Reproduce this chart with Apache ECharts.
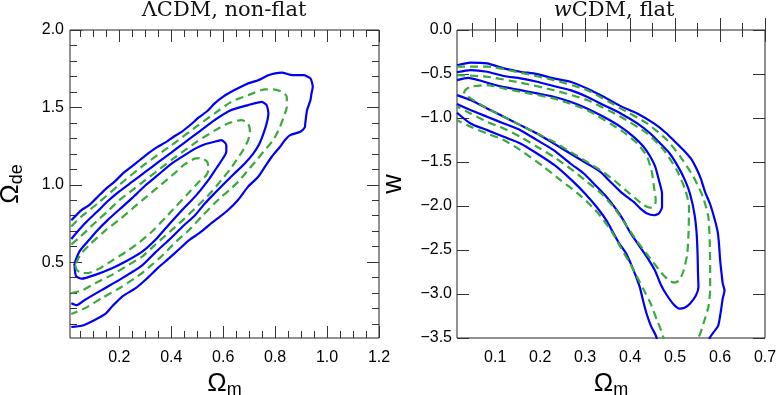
<!DOCTYPE html>
<html>
<head>
<meta charset="utf-8">
<script src="https://cdn.jsdelivr.net/npm/echarts@6/dist/echarts.min.js"></script>
<style>
  html, body { margin: 0; padding: 0; background: #fff; }
  #chart { width: 777px; height: 395px; }
</style>
</head>
<body>
<div id="chart"></div>
<script>
// ticks
const lcdmXLabels = [0.2, 0.4, 0.6, 0.8, 1.0, 1.2]
const lcdmXMinor = [0.05, 0.1, 0.15, 0.25, 0.3, 0.35, 0.45, 0.5, 0.55, 0.65, 0.7, 0.75, 0.85, 0.9, 0.95, 1.05, 1.1, 1.15]
const lcdmYLabels = [0.5, 1.0, 1.5, 2.0]
const lcdmYMinor = [0.1, 0.2, 0.3, 0.4, 0.6, 0.7, 0.8, 0.9, 1.1, 1.2, 1.3, 1.4, 1.6, 1.7, 1.8, 1.9]
const wcdmXLabels = [0.1, 0.2, 0.3, 0.4, 0.5, 0.6, 0.7]
const wcdmXMinor = [0.05, 0.15, 0.25, 0.35, 0.45, 0.55, 0.65]
const wcdmYLabels = [-3.5, -3.0, -2.5, -2.0, -1.5, -1.0, -0.5, 0.0]

// ΛCDM non-flat contours (Omega_m, Omega_de)
const lcdmBlue1 = [[0.027,0.49],[0.033,0.41],[0.055,0.393],[0.107,0.418],[0.172,0.461],[0.224,0.504],[0.288,0.568],[0.345,0.655],[0.392,0.745],[0.441,0.835],[0.495,0.93],[0.547,1.04],[0.575,1.11],[0.595,1.16],[0.612,1.214],[0.612,1.257],[0.593,1.289],[0.567,1.278],[0.53,1.262],[0.5,1.24],[0.45,1.19],[0.4,1.135],[0.35,1.065],[0.3,0.995],[0.25,0.915],[0.2,0.84],[0.156,0.773],[0.117,0.708],[0.078,0.633],[0.046,0.568],[0.027,0.49]]
const lcdmBlue2 = [[0.015,0.65],[0.04,0.70],[0.07,0.755],[0.117,0.83],[0.156,0.895],[0.2,0.957],[0.25,1.02],[0.3,1.083],[0.35,1.146],[0.4,1.208],[0.45,1.271],[0.5,1.334],[0.567,1.418],[0.631,1.483],[0.696,1.515],[0.748,1.536],[0.767,1.515],[0.774,1.461],[0.768,1.40],[0.755,1.33],[0.738,1.26],[0.715,1.2],[0.683,1.138],[0.644,1.074],[0.605,1.01],[0.567,0.945],[0.53,0.88],[0.49,0.80],[0.45,0.74],[0.392,0.645],[0.34,0.565],[0.288,0.48],[0.211,0.397],[0.133,0.321],[0.068,0.257],[0.036,0.222],[0.015,0.235]]
const lcdmBlue3 = [[0.015,0.77],[0.053,0.835],[0.085,0.87],[0.117,0.923],[0.15,0.977],[0.182,1.02],[0.214,1.074],[0.247,1.117],[0.279,1.16],[0.311,1.203],[0.344,1.242],[0.376,1.272],[0.409,1.31],[0.441,1.343],[0.473,1.386],[0.506,1.435],[0.538,1.475],[0.567,1.526],[0.6,1.57],[0.631,1.601],[0.665,1.63],[0.696,1.655],[0.735,1.676],[0.774,1.708],[0.8,1.72],[0.826,1.725],[0.855,1.712],[0.877,1.708],[0.91,1.708],[0.936,1.687],[0.945,1.633],[0.94,1.59],[0.936,1.547],[0.923,1.483],[0.916,1.397],[0.914,1.37],[0.897,1.343],[0.858,1.321],[0.838,1.289],[0.819,1.246],[0.787,1.181],[0.761,1.117],[0.735,1.052],[0.696,0.988],[0.657,0.902],[0.619,0.837],[0.58,0.784],[0.547,0.741],[0.508,0.687],[0.47,0.644],[0.431,0.585],[0.392,0.526],[0.35,0.465],[0.301,0.386],[0.263,0.332],[0.211,0.278],[0.172,0.214],[0.146,0.166],[0.094,0.117],[0.055,0.089],[0.015,0.081]]
const lcdmGreen1 = [[0.03,0.48],[0.036,0.45],[0.055,0.43],[0.08,0.43],[0.125,0.46],[0.172,0.51],[0.224,0.565],[0.275,0.625],[0.327,0.70],[0.379,0.79],[0.418,0.86],[0.463,0.94],[0.51,1.025],[0.534,1.06],[0.544,1.1],[0.538,1.149],[0.515,1.172],[0.494,1.171],[0.45,1.13],[0.41,1.07],[0.36,1.0],[0.31,0.93],[0.26,0.86],[0.208,0.785],[0.15,0.71],[0.09,0.62],[0.05,0.55],[0.03,0.48]]
const lcdmGreen2 = [[0.015,0.615],[0.05,0.665],[0.1,0.745],[0.156,0.83],[0.2,0.9],[0.25,0.965],[0.3,1.03],[0.35,1.095],[0.4,1.16],[0.45,1.22],[0.5,1.28],[0.567,1.35],[0.619,1.397],[0.67,1.418],[0.696,1.397],[0.703,1.343],[0.696,1.289],[0.677,1.225],[0.651,1.16],[0.625,1.095],[0.593,1.031],[0.567,0.977],[0.53,0.91],[0.49,0.845],[0.45,0.78],[0.41,0.72],[0.37,0.66],[0.33,0.60],[0.288,0.536],[0.236,0.483],[0.172,0.418],[0.107,0.364],[0.06,0.32],[0.015,0.30]]
const lcdmGreen3 = [[0.015,0.73],[0.05,0.79],[0.117,0.88],[0.2,1.0],[0.3,1.135],[0.4,1.255],[0.5,1.38],[0.567,1.461],[0.631,1.536],[0.696,1.579],[0.761,1.616],[0.793,1.616],[0.826,1.601],[0.845,1.568],[0.845,1.504],[0.838,1.461],[0.819,1.375],[0.793,1.289],[0.761,1.225],[0.729,1.16],[0.696,1.095],[0.664,1.031],[0.625,0.966],[0.593,0.923],[0.567,0.88],[0.52,0.80],[0.47,0.71],[0.42,0.635],[0.37,0.55],[0.33,0.49],[0.288,0.43],[0.211,0.343],[0.133,0.268],[0.068,0.203],[0.015,0.165]]

// wCDM flat contours (Omega_m, w)
const wcdmBlue1 = [[0.015,-0.57],[0.04,-0.545],[0.07,-0.58],[0.10,-0.625],[0.13,-0.658],[0.156,-0.683],[0.193,-0.72],[0.23,-0.758],[0.267,-0.815],[0.304,-0.891],[0.341,-0.986],[0.379,-1.10],[0.408,-1.214],[0.43,-1.327],[0.445,-1.441],[0.456,-1.555],[0.464,-1.706],[0.471,-1.858],[0.471,-2.01],[0.464,-2.086],[0.453,-2.105],[0.438,-2.086],[0.423,-2.029],[0.408,-1.953],[0.393,-1.896],[0.379,-1.839],[0.356,-1.725],[0.334,-1.612],[0.304,-1.517],[0.267,-1.403],[0.23,-1.289],[0.193,-1.176],[0.156,-1.081],[0.119,-0.986],[0.082,-0.891],[0.045,-0.796],[0.015,-0.74]]
const wcdmBlue2 = [[0.015,-0.48],[0.045,-0.455],[0.082,-0.474],[0.119,-0.523],[0.156,-0.55],[0.193,-0.588],[0.23,-0.637],[0.267,-0.683],[0.304,-0.758],[0.341,-0.853],[0.379,-0.948],[0.416,-1.062],[0.445,-1.176],[0.467,-1.289],[0.488,-1.403],[0.507,-1.555],[0.522,-1.706],[0.533,-1.858],[0.543,-2.086],[0.548,-2.313],[0.55,-2.541],[0.551,-2.768],[0.552,-2.92],[0.546,-3.02],[0.533,-3.11],[0.52,-3.16],[0.51,-3.166],[0.497,-3.12],[0.48,-3.0],[0.469,-2.9],[0.455,-2.73],[0.44,-2.6],[0.42,-2.45],[0.40,-2.3],[0.385,-2.16],[0.368,-2.03],[0.343,-1.87],[0.319,-1.744],[0.297,-1.631],[0.267,-1.517],[0.23,-1.365],[0.193,-1.251],[0.156,-1.138],[0.119,-1.062],[0.082,-0.986],[0.045,-0.91],[0.015,-0.84]]
const wcdmBlue3 = [[0.015,-0.40],[0.045,-0.37],[0.082,-0.38],[0.119,-0.436],[0.156,-0.474],[0.193,-0.501],[0.23,-0.55],[0.267,-0.588],[0.304,-0.664],[0.341,-0.758],[0.379,-0.865],[0.416,-0.948],[0.453,-1.062],[0.48,-1.17],[0.50,-1.27],[0.518,-1.36],[0.535,-1.46],[0.548,-1.58],[0.558,-1.7],[0.566,-1.83],[0.578,-1.98],[0.588,-2.15],[0.595,-2.3],[0.598,-2.45],[0.6,-2.6],[0.603,-2.75],[0.606,-2.88],[0.61,-2.96],[0.606,-3.05],[0.602,-3.19],[0.596,-3.36],[0.585,-3.44],[0.577,-3.5],[0.57,-3.8],[0.46,-3.8],[0.459,-3.5],[0.447,-3.37],[0.437,-3.23],[0.43,-3.1],[0.422,-2.93],[0.413,-2.8],[0.402,-2.66],[0.39,-2.53],[0.375,-2.42],[0.362,-2.3],[0.348,-2.17],[0.327,-2.02],[0.30,-1.86],[0.27,-1.706],[0.232,-1.536],[0.193,-1.403],[0.156,-1.289],[0.119,-1.214],[0.082,-1.138],[0.045,-1.062],[0.015,-0.94]]
const wcdmGreen1 = [[0.03,-0.72],[0.034,-0.68],[0.045,-0.645],[0.082,-0.626],[0.119,-0.664],[0.156,-0.702],[0.23,-0.777],[0.304,-0.91],[0.379,-1.138],[0.416,-1.289],[0.438,-1.441],[0.449,-1.631],[0.453,-1.782],[0.457,-1.934],[0.455,-1.991],[0.445,-2.02],[0.43,-1.991],[0.412,-1.915],[0.39,-1.82],[0.364,-1.706],[0.334,-1.593],[0.304,-1.498],[0.267,-1.384],[0.23,-1.27],[0.193,-1.176],[0.156,-1.081],[0.119,-0.986],[0.082,-0.891],[0.045,-0.777],[0.03,-0.72]]
const wcdmGreen2 = [[0.015,-0.512],[0.082,-0.531],[0.156,-0.599],[0.23,-0.683],[0.304,-0.796],[0.379,-0.986],[0.438,-1.176],[0.475,-1.365],[0.504,-1.593],[0.523,-1.82],[0.531,-2.01],[0.53,-2.3],[0.527,-2.55],[0.518,-2.75],[0.508,-2.85],[0.498,-2.87],[0.485,-2.84],[0.468,-2.75],[0.45,-2.63],[0.43,-2.5],[0.41,-2.36],[0.39,-2.21],[0.366,-2.03],[0.336,-1.858],[0.304,-1.725],[0.267,-1.574],[0.23,-1.441],[0.193,-1.327],[0.156,-1.214],[0.119,-1.119],[0.082,-1.043],[0.045,-0.948],[0.015,-0.87]]
const wcdmGreen3 = [[0.015,-0.417],[0.082,-0.417],[0.156,-0.485],[0.23,-0.569],[0.304,-0.683],[0.379,-0.891],[0.438,-1.062],[0.482,-1.251],[0.512,-1.441],[0.541,-1.669],[0.562,-1.896],[0.574,-2.124],[0.577,-2.389],[0.578,-2.69],[0.578,-2.95],[0.574,-3.15],[0.563,-3.337],[0.556,-3.451],[0.552,-3.5],[0.55,-3.8],[0.475,-3.8],[0.474,-3.5],[0.46,-3.3],[0.445,-3.1],[0.43,-2.95],[0.415,-2.8],[0.40,-2.654],[0.38,-2.48],[0.36,-2.3],[0.335,-2.12],[0.31,-1.98],[0.282,-1.85],[0.245,-1.706],[0.208,-1.555],[0.156,-1.365],[0.119,-1.251],[0.082,-1.176],[0.045,-1.10],[0.015,-1.024]]

const BLUE = '#0000f5'
const GREEN = '#3aaa3a'
const TICK = '#333'
const labelFont = { fontFamily: 'Liberation Sans', fontSize: 16, color: '#000' }
const fix1 = v => (v < 0 ? '\u2212' : '') + Math.abs(v).toFixed(1)

// one grid side gets two axes: long ticks (+labels) and short ticks
function tickAxes(grid, min, max, labels, minor, pos, margin, extra) {
  const base = {
    type: 'value', gridIndex: grid, min, max, position: pos,
    splitLine: { show: false }, axisLine: { show: false }
  }
  return [
    Object.assign({}, base, {
      axisTick: { inside: true, length: 12, customValues: labels, lineStyle: { color: TICK } },
      axisLabel: Object.assign({ show: margin > 0, customValues: labels, formatter: fix1, margin }, labelFont)
    }, extra || {}),
    Object.assign({}, base, {
      axisTick: { show: minor.length > 0, inside: true, length: 7, customValues: minor.length ? minor : [min], lineStyle: { color: TICK } },
      axisLabel: { show: false }
    })
  ]
}

const nameRich = {
  o: { fontFamily: 'Liberation Sans', fontSize: 26, color: '#000' },
  s: { fontFamily: 'Liberation Sans', fontSize: 18, color: '#000', padding: [12, 0, 0, 0] }
}

const xAxis = [].concat(
  tickAxes(0, 0.01, 1.2, lcdmXLabels, lcdmXMinor, 'bottom', 12,
    { name: '{o|\u03A9}{s|m}', nameLocation: 'middle', nameGap: 30, nameTextStyle: { rich: nameRich } }),
  tickAxes(0, 0.01, 1.2, lcdmXLabels, lcdmXMinor, 'top', 0),
  tickAxes(1, 0.015, 0.7, wcdmXLabels, wcdmXMinor, 'bottom', 12,
    { name: '{o|\u03A9}{s|m}', nameLocation: 'middle', nameGap: 30, nameTextStyle: { rich: nameRich } }),
  tickAxes(1, 0.015, 0.7, wcdmXLabels, wcdmXMinor, 'top', 0)
)
const yAxis = [].concat(
  tickAxes(0, 0.01, 2.0, lcdmYLabels, lcdmYMinor, 'left', 6,
    { name: '{o|\u03A9}{s|de}', nameLocation: 'middle', nameRotate: 90, nameGap: 44, nameTextStyle: { rich: nameRich } }),
  tickAxes(0, 0.01, 2.0, lcdmYLabels, lcdmYMinor, 'right', 0),
  tickAxes(1, -3.5, 0, wcdmYLabels, [], 'left', 5,
    { name: 'w', nameLocation: 'middle', nameRotate: 90, nameGap: 50,
      nameTextStyle: { fontFamily: 'Liberation Sans', fontSize: 27, color: '#000' } }),
  tickAxes(1, -3.5, 0, wcdmYLabels, [], 'right', 0)
)

function contour(data, grid, color, dashed) {
  return {
    type: 'line', xAxisIndex: grid * 4, yAxisIndex: grid * 4, data,
    symbol: 'none', smooth: 0.2, clip: true, silent: true,
    lineStyle: { color, width: 2.2, type: dashed ? [8, 5] : 'solid' }
  }
}

const chart = echarts.init(document.getElementById('chart'))
chart.setOption({
  animation: false,
  backgroundColor: '#fff',
  grid: [
    { left: 70, top: 30, width: 309, height: 308, outerBoundsMode: 'none', show: true, borderColor: '#222', borderWidth: 1 },
    { left: 457, top: 30, width: 308, height: 308, outerBoundsMode: 'none', show: true, borderColor: '#222', borderWidth: 1 }
  ],
  graphic: [
    { type: 'text', x: 224, y: 0, style: { text: '\u039BCDM, non-flat', font: '21px "DejaVu Serif"', fill: '#111', align: 'center', verticalAlign: 'top' } },
    { type: 'text', x: 614, y: 0, style: { text: '{i|w}CDM, flat', font: '21px "DejaVu Serif"', fill: '#111', align: 'center', verticalAlign: 'top',
      rich: { i: { fontStyle: 'italic', fontFamily: 'DejaVu Serif', fontSize: 21 } } } }
  ],
  xAxis,
  yAxis,
  series: [
    contour(lcdmBlue1, 0, BLUE), contour(lcdmBlue2, 0, BLUE), contour(lcdmBlue3, 0, BLUE),
    contour(lcdmGreen1, 0, GREEN, true), contour(lcdmGreen2, 0, GREEN, true), contour(lcdmGreen3, 0, GREEN, true),
    contour(wcdmBlue1, 1, BLUE), contour(wcdmBlue2, 1, BLUE), contour(wcdmBlue3, 1, BLUE),
    contour(wcdmGreen1, 1, GREEN, true), contour(wcdmGreen2, 1, GREEN, true), contour(wcdmGreen3, 1, GREEN, true)
  ]
})
</script>
</body>
</html>
